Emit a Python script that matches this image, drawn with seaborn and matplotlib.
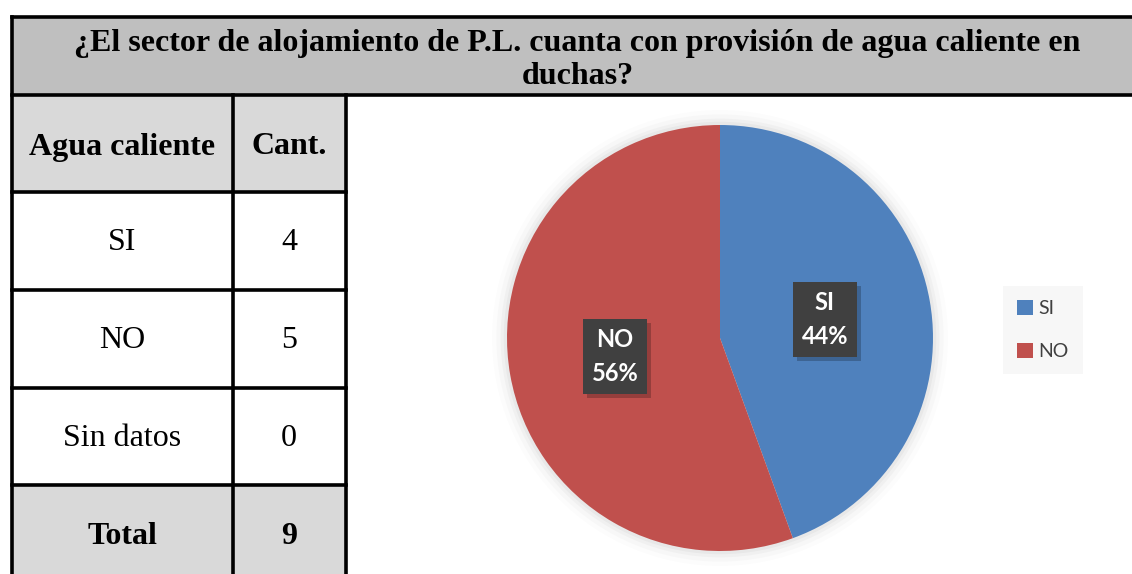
import matplotlib
matplotlib.use("Agg")
import matplotlib.pyplot as plt
import matplotlib.patheffects as pe
from matplotlib.patches import Rectangle, Circle
import seaborn as sns

# data
title_lines = ["¿El sector de alojamiento de P.L. cuanta con provisión de agua caliente en",
               "duchas?"]
col_headers = ["Agua caliente", "Cant."]
categories = ["SI", "NO", "Sin datos"]
counts = [4, 5, 0]
total_label = "Total"
total = 9

pie_cats = [c for c, n in zip(categories, counts) if n > 0]
pie_vals = [n for n in counts if n > 0]
pie_colors = sns.color_palette(["#4F81BD", "#C0504D"])

sns.set_theme(style="white")
plt.rcParams["font.family"] = ["Liberation Serif", "DejaVu Serif"]
plt.rcParams["text.color"] = "black"

W, H = 1132, 574
fig = plt.figure(figsize=(W / 100, H / 100), dpi=100)
fig.patch.set_facecolor("white")

# full-figure axes in pixel coordinates for the table
bg = fig.add_axes([0, 0, 1, 1])
bg.set_xlim(0, W)
bg.set_ylim(H, 0)
bg.axis("off")

lw = 2.6
x0, x1, x2 = 11.5, 232.5, 345.5
y_title0, y_title1 = 16.5, 94.5
rows_y = [94.5, 191.5, 290, 388, 485, H + 5]

bg.add_patch(Rectangle((x0, y_title0), W - x0 + 5, y_title1 - y_title0,
                       facecolor="#BFBFBF", edgecolor="none"))
bg.add_patch(Rectangle((x0, rows_y[0]), x2 - x0, rows_y[1] - rows_y[0],
                       facecolor="#D9D9D9", edgecolor="none"))
bg.add_patch(Rectangle((x0, rows_y[4]), x2 - x0, rows_y[5] - rows_y[4],
                       facecolor="#D9D9D9", edgecolor="none"))

# borders
bg.plot([x0, W + 5], [y_title0, y_title0], color="black", lw=lw, solid_capstyle="projecting")
bg.plot([x0, W + 5], [y_title1, y_title1], color="black", lw=lw, solid_capstyle="projecting")
for yy in rows_y[1:5]:
    bg.plot([x0, x2], [yy, yy], color="black", lw=lw, solid_capstyle="projecting")
for xx in [x0, x1, x2]:
    top = y_title0 if xx == x0 else y_title1
    bg.plot([xx, xx], [top, H + 5], color="black", lw=lw, solid_capstyle="projecting")

bg.text(577, 44, title_lines[0], ha="center", va="center", fontsize=23, fontweight="bold")
bg.text(578, 77, title_lines[1], ha="center", va="center", fontsize=23, fontweight="bold")

row_texts = [(col_headers[0], col_headers[1], "bold")]
row_texts += [(c, str(n), "normal") for c, n in zip(categories, counts)]
row_texts += [(total_label, str(total), "bold")]
row_centers = [147, 243, 341, 438, 536]
for yc, (a, b, w) in zip(row_centers, row_texts):
    bg.text((x0 + x1) / 2, yc, a, ha="center", va="center", fontsize=23, fontweight=w)
    bg.text((x1 + x2) / 2, yc, b, ha="center", va="center", fontsize=23, fontweight=w)

# pie
cx, cy, R, L = 720, 338, 213, 1.15
ax = fig.add_axes([(cx - R * L) / W, 1 - (cy + R * L) / H, 2 * R * L / W, 2 * R * L / H])

for r, a in [(1.07, 0.025), (1.05, 0.035), (1.03, 0.05), (1.015, 0.07)]:
    ax.add_patch(Circle((0, 0), r, facecolor="#808080", edgecolor="none", alpha=a))

lab_iter = iter(pie_cats)
wedges, texts, autotexts = ax.pie(
    pie_vals, colors=pie_colors, startangle=90, counterclock=False,
    autopct=lambda p: f"{next(lab_iter)}\n{p:.0f}%", pctdistance=0.5,
    wedgeprops=dict(linewidth=0), radius=1, frame=True)
ax.set_xlim(-L, L)
ax.set_ylim(-L, L)
ax.axis("off")

for t in autotexts:
    t.set_family(["Lato", "DejaVu Sans"])
    t.set_fontweight("bold")
    t.set_fontsize(17)
    t.set_color("white")
    t.set_linespacing(1.62)
    t.set_bbox(dict(boxstyle="square,pad=0.36", facecolor="#404040", edgecolor="none"))
    t.get_bbox_patch().set_path_effects(
        [pe.SimplePatchShadow(offset=(3, -3), shadow_rgbFace="black", alpha=0.22), pe.Normal()])

leg = fig.legend(wedges, pie_cats, loc="center",
                 bbox_to_anchor=(1043 / W, 1 - 330 / H),
                 frameon=True, facecolor="#F7F7F7", edgecolor="none", fancybox=False,
                 framealpha=1, handlelength=0.8, handleheight=0.8, handletextpad=0.3,
                 labelspacing=1.3, borderpad=0.75, borderaxespad=0,
                 prop={"family": ["Lato", "DejaVu Sans"], "size": 14})
for txt in leg.get_texts():
    txt.set_color("#404040")

fig.savefig("out.png", dpi=100)
